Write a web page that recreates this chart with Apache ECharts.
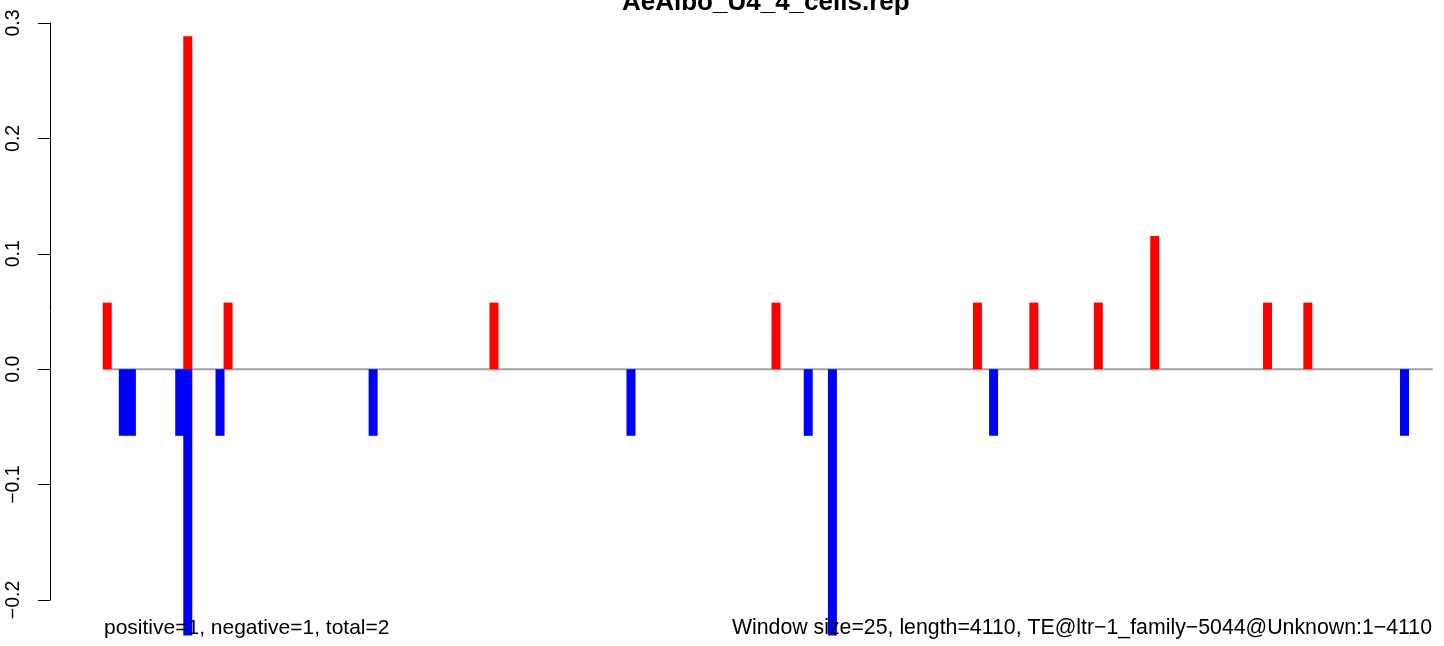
<!DOCTYPE html>
<html>
<head>
<meta charset="utf-8">
<script src="https://cdn.jsdelivr.net/npm/echarts@6/dist/echarts.min.js"></script>
<style>
html,body{margin:0;padding:0;background:#fff;}
#chart{width:1444px;height:646px;}
</style>
</head>
<body>
<div id="chart"></div>
<script>
// ---- data (window index along the sequence, value) ----
const titleText = "AeAlbo_U4_4_cells.rep";
const leftNote = "positive=1, negative=1, total=2";
const rightNote = "Window size=25, length=4110, TE@ltr\u22121_family\u22125044@Unknown:1\u22124110";
const windowCount = 165;
const redIdx = [0, 10, 15, 48, 83, 108, 115, 123, 130, 144, 149];
const redVal = [0.0577, 0.2885, 0.0577, 0.0577, 0.0577, 0.0577, 0.0577, 0.0577, 0.1154, 0.0577, 0.0577];
const blueIdx = [2, 3, 9, 10, 14, 33, 65, 87, 90, 110, 161];
const blueVal = [-0.0577, -0.0577, -0.0577, -0.2308, -0.0577, -0.0577, -0.0577, -0.0577, -0.2308, -0.0577, -0.0577];
const yTicks = [-0.2, -0.1, 0.0, 0.1, 0.2, 0.3];

const FONT = "'Liberation Sans', Arial, Helvetica, sans-serif";
const chart = echarts.init(document.getElementById('chart'), null, {renderer: 'canvas'});

const redData = redIdx.map((x, i) => [x, redVal[i]]);
const blueData = blueIdx.map((x, i) => [x, blueVal[i]]);
const zeroLine = [[-0.5, 0], [windowCount - 0.5, 0]];

function fmt(v) {
  if (Math.abs(v) < 1e-9) return '0.0';
  return (v < 0 ? '\u2212' : '') + Math.abs(v).toFixed(1);
}

chart.setOption({
  backgroundColor: '#ffffff',
  animation: false,
  title: [
    {text: titleText, left: 622, top: -10, padding: 0,
     textStyle: {fontFamily: FONT, fontSize: 26, fontWeight: 'bold', color: '#000'}},
    {text: leftNote, left: 104, top: 618, padding: 0,
     textStyle: {fontFamily: FONT, fontSize: 21, fontWeight: 'normal', color: '#000'}},
    {text: rightNote, right: 12, top: 618, padding: 0,
     textStyle: {fontFamily: FONT, fontSize: 21.3, fontWeight: 'normal', color: '#000'}}
  ],
  grid: {left: 50, right: 0, top: 23, bottom: 46, containLabel: false, outerBoundsMode: 'none'},
  xAxis: {
    type: 'value', min: -7.1, max: 165.9, show: false,
    splitLine: {show: false}
  },
  yAxis: {
    type: 'value', min: yTicks[0], max: yTicks[yTicks.length - 1], interval: 0.1,
    position: 'left',
    axisLine: {show: true, onZero: false, lineStyle: {color: '#000', width: 1}},
    axisTick: {show: true, length: 12, lineStyle: {color: '#000', width: 1}},
    axisLabel: {show: true, rotate: 90, margin: 26, color: '#000',
                fontFamily: FONT, fontSize: 19.5, formatter: fmt},
    splitLine: {show: false}
  },
  series: [
    {type: 'line', data: zeroLine, symbol: 'none', z: 1,
     lineStyle: {color: '#a3a3a3', width: 2}, silent: true},
    {type: 'bar', data: redData, barWidth: 9, barGap: '-100%', clip: false, z: 2,
     itemStyle: {color: '#ff0000'}},
    {type: 'bar', data: blueData, barWidth: 9, barGap: '-100%', clip: false, z: 2,
     itemStyle: {color: '#0000ff'}}
  ]
});
</script>
</body>
</html>
